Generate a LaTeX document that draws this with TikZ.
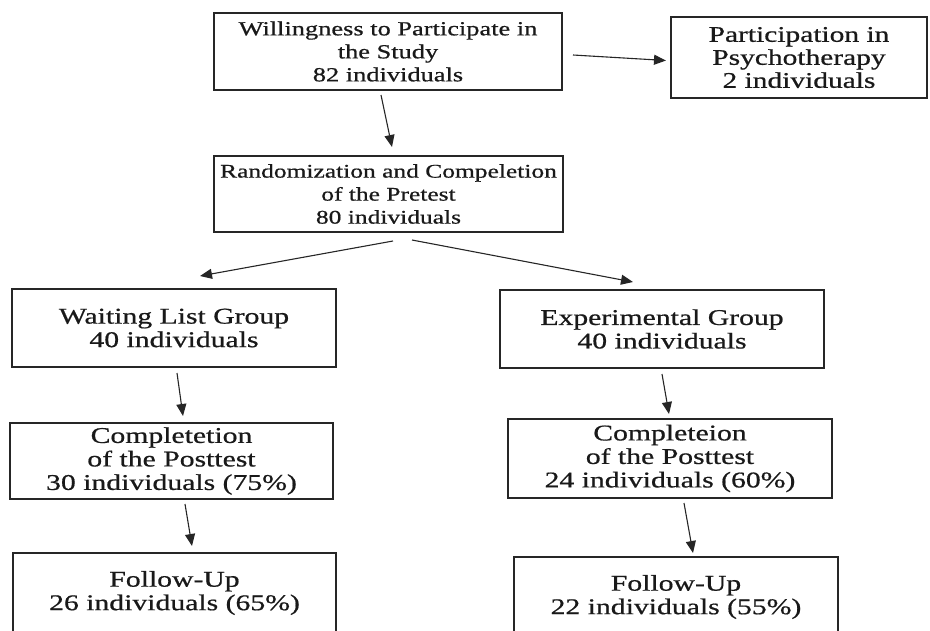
\documentclass[tikz,border=0pt]{standalone}
\usepackage{fontspec}
\setmainfont[FakeStretch=1.32,FakeBold=0.7]{Liberation Serif}
\usetikzlibrary{arrows.meta,calc}
\begin{document}
\begin{tikzpicture}[x=1pt,y=-1pt,
  box/.style={draw=black!85, line width=2pt, align=center, inner sep=2pt, text=black!90},
  topfont/.style={font=\fontsize{20}{23}\selectfont},
  randfont/.style={font=\fontsize{19.3}{23}\selectfont},
  psyfont/.style={font=\fontsize{22.3}{23}\selectfont},
  lowfont/.style={font=\fontsize{22.5}{23.5}\selectfont},
  arr/.style={-{Triangle[length=12pt,width=10pt]}, line width=1.1pt, draw=black!85}]
\useasboundingbox (0,0) rectangle (930,630);
\clip (0,0) rectangle (930,630);
\node[box,topfont,minimum width=348pt,minimum height=77pt] (will) at (388,51.5)
  {Willingness to Participate in\\the Study\\82 individuals};
\node[box,psyfont,minimum width=256pt,minimum height=81pt] (psy) at (799,57.5)
  {Participation in\\Psychotherapy\\2 individuals};
\node[box,randfont,minimum width=349pt,minimum height=76pt] (rand) at (388.5,194)
  {Randomization and Compeletion\\of the Pretest\\80 individuals};
\node[box,lowfont,minimum width=324pt,minimum height=78pt] (wait) at (174,328)
  {Waiting List Group\\40 individuals};
\node[box,lowfont,minimum width=324pt,minimum height=78pt] (exp) at (662,329)
  {Experimental Group\\40 individuals};
\node[box,lowfont,minimum width=323pt,minimum height=76pt] (compL) at (171.5,461)
  {Completetion\\of the Posttest\\30 individuals (75\%)};
\node[box,lowfont,minimum width=324pt,minimum height=79pt] (compR) at (670,458.5)
  {Completeion\\of the Posttest\\24 individuals (60\%)};
\node[box,lowfont,minimum width=323pt,minimum height=80pt] (fuL) at (174.5,593)
  {Follow-Up\\26 individuals (65\%)};
\node[box,lowfont,minimum width=324pt,minimum height=80pt] (fuR) at (676,597)
  {Follow-Up\\22 individuals (55\%)};
\draw[arr] ($(will.east)+(10,3.5)$) -- ($(psy.west)+(-4,3)$);
\draw[arr] ($(will.south)+(-7,4)$) -- ($(rand.north)+(3.5,-8)$);
\draw[arr] ($(rand.south)+(4.5,8)$) -- ($(wait.north)+(26,-12)$);
\draw[arr] ($(rand.south)+(23.5,7)$) -- ($(exp.north)+(-29,-7)$);
\draw[arr] ($(wait.south)+(3,5)$) -- ($(compL.north)+(11.5,-6)$);
\draw[arr] ($(exp.south)+(0,5)$) -- ($(compR.north)+(-1,-4)$);
\draw[arr] ($(compL.south)+(13.5,4)$) -- ($(fuL.north)+(17.5,-6)$);
\draw[arr] ($(compR.south)+(14,4)$) -- ($(fuR.north)+(17,-3)$);
\end{tikzpicture}
\end{document}
